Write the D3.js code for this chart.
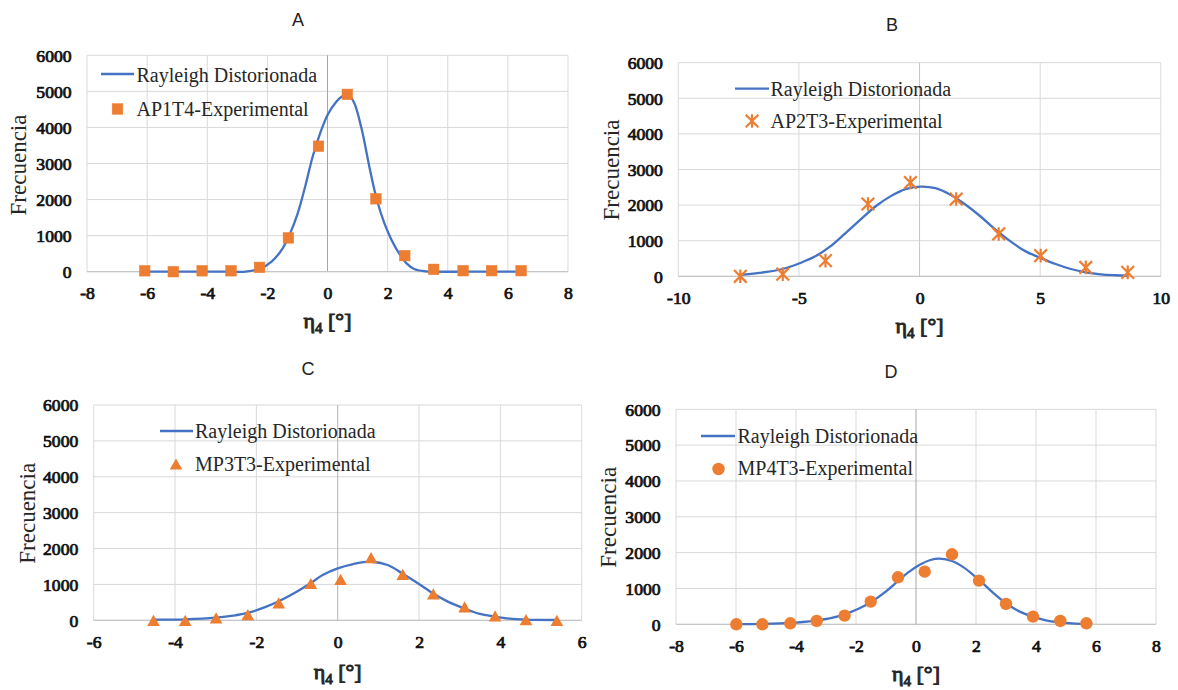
<!DOCTYPE html>
<html><head><meta charset="utf-8">
<script src="https://cdn.jsdelivr.net/npm/d3@7"></script>
<style>html,body{margin:0;padding:0;background:#fff}svg{display:block}</style>
</head><body>
<svg id="chart" width="1178" height="690"></svg>
<script>
// ---------- DATA ----------
const panelTitles = ["A", "B", "C", "D"];
const curveName = "Rayleigh Distorionada";
const seriesNames = ["AP1T4-Experimental", "AP2T3-Experimental", "MP3T3-Experimental", "MP4T3-Experimental"];
const yAxisLabel = "Frecuencia";
const yTicks = [0, 1000, 2000, 3000, 4000, 5000, 6000];
const xTicksA = [-8, -6, -4, -2, 0, 2, 4, 6, 8];
const xTicksB = [-10, -5, 0, 5, 10];
const xTicksC = [-6, -4, -2, 0, 2, 4, 6];
const xTicksD = [-8, -6, -4, -2, 0, 2, 4, 6, 8];

const expA_x = [-6.08, -5.13, -4.17, -3.21, -2.26, -1.30, -0.30, 0.66, 1.61, 2.57, 3.53, 4.51, 5.46, 6.44];
const expA_y = [25, 0, 25, 25, 120, 937, 3479, 4917, 2022, 445, 65, 28, 28, 28];
const curveA_x = [-6.08, -5, -4, -3.2, -2.73, -2.23, -1.86, -1.49, -1.24, -0.99, -0.74, -0.49, -0.24, 0.01, 0.26, 0.51, 0.70, 0.89, 1.14, 1.39, 1.64, 1.89, 2.13, 2.38, 2.63, 2.88, 3.26, 3.63, 4.5, 5.5, 6.44];
const curveA_y = [0, 0, 0, 0, 0, 90, 280, 650, 1070, 1620, 2370, 3200, 3850, 4360, 4680, 4870, 4900, 4680, 3940, 2920, 2000, 1345, 880, 510, 230, 75, 10, 0, 0, 0, 0];

const expB_x = [-7.43, -5.67, -3.90, -2.14, -0.38, 1.52, 3.28, 5.02, 6.89, 8.63];
const expB_y = [0, 60, 440, 2030, 2635, 2170, 1190, 580, 250, 110];
const curveB_x = [-7.43, -6.65, -5.67, -4.94, -4.32, -3.70, -3.07, -2.45, -1.83, -1.21, -0.58, 0.04, 0.66, 1.28, 1.91, 2.53, 3.15, 3.77, 4.40, 5.02, 5.64, 6.27, 6.89, 7.51, 8.14, 8.63];
const curveB_y = [40, 95, 205, 375, 560, 840, 1215, 1590, 1960, 2245, 2450, 2520, 2475, 2290, 2010, 1680, 1310, 980, 700, 515, 345, 205, 110, 55, 30, 20];

const expC_x = [-4.53, -3.75, -2.99, -2.21, -1.45, -0.66, 0.07, 0.82, 1.60, 2.35, 3.12, 3.87, 4.63, 5.39];
const expC_y = [0, 0, 65, 160, 485, 1025, 1140, 1745, 1280, 737, 373, 121, 19, 0];
const curveC_x = [-4.53, -3.75, -2.99, -2.52, -2.21, -1.77, -1.45, -1.02, -0.66, -0.37, 0.00, 0.38, 0.82, 1.23, 1.60, 1.98, 2.35, 2.72, 3.12, 3.47, 3.87, 4.22, 4.63, 5.39];
const curveC_y = [20, 28, 75, 140, 205, 373, 530, 790, 1040, 1260, 1445, 1567, 1632, 1540, 1297, 1026, 746, 513, 326, 187, 103, 47, 19, 8];

const expD_x = [-5.99, -5.12, -4.19, -3.31, -2.38, -1.51, -0.60, 0.29, 1.20, 2.10, 3.00, 3.90, 4.81, 5.68];
const expD_y = [0, 0, 28, 93, 242, 633, 1312, 1470, 1953, 1219, 567, 214, 93, 28];
const curveD_x = [-5.99, -5.12, -4.19, -3.31, -2.88, -2.38, -1.88, -1.51, -1.01, -0.60, -0.27, 0.11, 0.48, 0.79, 1.20, 1.60, 2.10, 2.59, 3.00, 3.46, 3.90, 4.33, 4.81, 5.21, 5.68];
const curveD_y = [5, 10, 37, 112, 167, 279, 447, 614, 912, 1209, 1442, 1656, 1795, 1833, 1767, 1581, 1237, 865, 586, 353, 214, 112, 56, 28, 10];

// ---------- LAYOUT ----------
const BLUE = "#4472C4", ORANGE = "#ED7D31", GRID = "#D9D9D9";
const SERIF = "'Liberation Serif','Times New Roman',serif";
const SANS = "'Liberation Sans',Arial,sans-serif";

const panels = [
  { title: panelTitles[0], name: seriesNames[0], marker: "square", xTicks: xTicksA, ex: expA_x, ey: expA_y, cx: curveA_x, cy: curveA_y,
    box: [87, 568, 55.3, 271.7], titlePos: [298, 26], ylab: [26, 165], xlabY: 328,
    leg: { l1: 101, l2: 134, ly: 74, tx: 136.5, b1: 82, mx: 117.5, my: 109, b2: 116 }, zeroColor: "#A6A6A6" },
  { title: panelTitles[1], name: seriesNames[1], marker: "star", xTicks: xTicksB, ex: expB_x, ey: expB_y, cx: curveB_x, cy: curveB_y,
    box: [678.3, 1160.8, 62.7, 276.3], titlePos: [892, 30.5], ylab: [619.3, 170], xlabY: 333,
    leg: { l1: 735, l2: 769, ly: 88.7, tx: 770.5, b1: 96, mx: 752, my: 121, b2: 128.3 }, zeroColor: "#C6C6C6" },
  { title: panelTitles[2], name: seriesNames[2], marker: "triangle", xTicks: xTicksC, ex: expC_x, ey: expC_y, cx: curveC_x, cy: curveC_y,
    box: [93.7, 581.7, 405, 620.3], titlePos: [308, 375], ylab: [35, 513.3], xlabY: 679,
    leg: { l1: 160, l2: 193, ly: 431, tx: 195, b1: 438.3, mx: 176, my: 464, b2: 471 }, zeroColor: "#B4B4B4" },
  { title: panelTitles[3], name: seriesNames[3], marker: "circle", xTicks: xTicksD, ex: expD_x, ey: expD_y, cx: curveD_x, cy: curveD_y,
    box: [676, 1156, 409.3, 624.3], titlePos: [891, 378.4], ylab: [616, 517.3], xlabY: 681,
    leg: { l1: 701, l2: 735, ly: 436, tx: 737.5, b1: 443.3, mx: 718.5, my: 469, b2: 475 }, zeroColor: "#A6A6A6" }
];

const svg = d3.select("#chart");

// faux-bold serif (fill + thin stroke of the same colour)
function boldSerif(sel, size, color) {
  sel.attr("font-family", SERIF).style("font-family", SERIF).style("font-weight", "normal")
    .style("font-size", size + "px").attr("fill", color)
    .attr("stroke", color).attr("stroke-width", 0.75).attr("paint-order", "stroke");
}

function drawMarker(g, type, x, y) {
  if (type === "square") {
    g.append("rect").attr("x", x - 5.3).attr("y", y - 5.3).attr("width", 10.6).attr("height", 10.6)
      .attr("fill", ORANGE).attr("stroke", ORANGE).attr("stroke-width", 0.5);
  } else if (type === "circle") {
    g.append("circle").attr("cx", x).attr("cy", y).attr("r", 6.2).attr("fill", ORANGE);
  } else if (type === "triangle") {
    const w = 12.6, h = 11.2;
    g.append("path").attr("d", `M${x},${y - h / 2}L${x + w / 2},${y + h / 2}L${x - w / 2},${y + h / 2}Z`).attr("fill", ORANGE);
  } else if (type === "star") {
    const r = 6.3;
    g.append("path").attr("d",
      `M${x - r},${y - r}L${x + r},${y + r}M${x - r},${y + r}L${x + r},${y - r}M${x},${y - r - 0.5}L${x},${y + r + 0.5}`)
      .attr("stroke", ORANGE).attr("stroke-width", 2.2).attr("fill", "none");
  }
}

panels.forEach(p => {
  const [L, R, T, B] = p.box;
  const xd = d3.extent(p.xTicks);
  const x = d3.scaleLinear().domain(xd).range([L, R]);
  const y = d3.scaleLinear().domain([0, 6000]).range([B, T]);
  const g = svg.append("g");

  // gridlines
  g.append("g").selectAll("line").data(yTicks).join("line")
    .attr("x1", L).attr("x2", R).attr("y1", d => y(d)).attr("y2", d => y(d))
    .attr("stroke", GRID).attr("stroke-width", 1);
  g.append("g").selectAll("line").data(p.xTicks).join("line")
    .attr("x1", d => x(d)).attr("x2", d => x(d)).attr("y1", T).attr("y2", B)
    .attr("stroke", d => d === 0 ? p.zeroColor : GRID).attr("stroke-width", 1);
  // bottom axis line
  g.append("line").attr("x1", L).attr("x2", R).attr("y1", y(0)).attr("y2", y(0)).attr("stroke", "#BFBFBF").attr("stroke-width", 1);

  // axes tick labels
  const yAxis = g.append("g").attr("transform", `translate(${L},0)`)
    .call(d3.axisLeft(y).tickValues(yTicks).tickSize(0).tickPadding(0).tickFormat(d => String(d)));
  yAxis.attr("font-family", null).attr("font-size", null);
  yAxis.select(".domain").remove();
  yAxis.selectAll("text").attr("x", -15.5 / 1.1).attr("dy", "0.36em").attr("transform", "scale(1.1,1)")
    .call(s => boldSerif(s, 16, "#111"));

  const xAxis = g.append("g").attr("transform", `translate(0,${B})`)
    .call(d3.axisBottom(x).tickValues(p.xTicks).tickSize(0).tickPadding(0).tickFormat(d => String(d)));
  xAxis.attr("font-family", null).attr("font-size", null);
  xAxis.select(".domain").remove();
  xAxis.selectAll("text").attr("y", 22).attr("dy", "0.36em").attr("transform", "scale(1.1,1)")
    .call(s => boldSerif(s, 16, "#111"));

  // curve
  const pts = p.cx.map((v, i) => [v, p.cy[i]]);
  const line = d3.line().x(d => x(d[0])).y(d => y(d[1])).curve(d3.curveCatmullRom.alpha(0.5));
  g.append("path").attr("d", line(pts)).attr("fill", "none").attr("stroke", BLUE).attr("stroke-width", 2.3);

  // markers
  const mg = g.append("g");
  p.ex.forEach((v, i) => drawMarker(mg, p.marker, x(v), y(p.ey[i])));

  // title
  g.append("text").attr("x", p.titlePos[0]).attr("y", p.titlePos[1]).attr("text-anchor", "middle")
    .style("font-family", SANS).style("font-size", "18px").attr("fill", "#222").text(p.title);

  // y label
  g.append("text").attr("transform", `translate(${p.ylab[0]},${p.ylab[1]}) rotate(-90)`).attr("text-anchor", "middle")
    .style("font-family", SERIF).style("font-size", "23px").attr("fill", "#262626").text(yAxisLabel);

  // x label
  const xl = g.append("text").attr("x", (L + R) / 2).attr("y", p.xlabY).attr("text-anchor", "middle")
    .call(s => boldSerif(s, 22, "#262626")).attr("stroke-width", 1);
  xl.append("tspan").text("η");
  xl.append("tspan").attr("dy", "5").style("font-size", "15px").text("4");
  xl.append("tspan").attr("dy", "-5").text(" [°]");

  // legend
  const lg = p.leg;
  g.append("line").attr("x1", lg.l1).attr("x2", lg.l2).attr("y1", lg.ly).attr("y2", lg.ly)
    .attr("stroke", BLUE).attr("stroke-width", 2.3);
  g.append("text").attr("x", lg.tx).attr("y", lg.b1).style("font-family", SERIF).style("font-size", "20px")
    .attr("fill", "#262626").text(curveName);
  drawMarker(g, p.marker, lg.mx, lg.my);
  g.append("text").attr("x", lg.tx).attr("y", lg.b2).style("font-family", SERIF).style("font-size", "20px")
    .attr("fill", "#262626").text(p.name);
});
</script>
</body></html>
